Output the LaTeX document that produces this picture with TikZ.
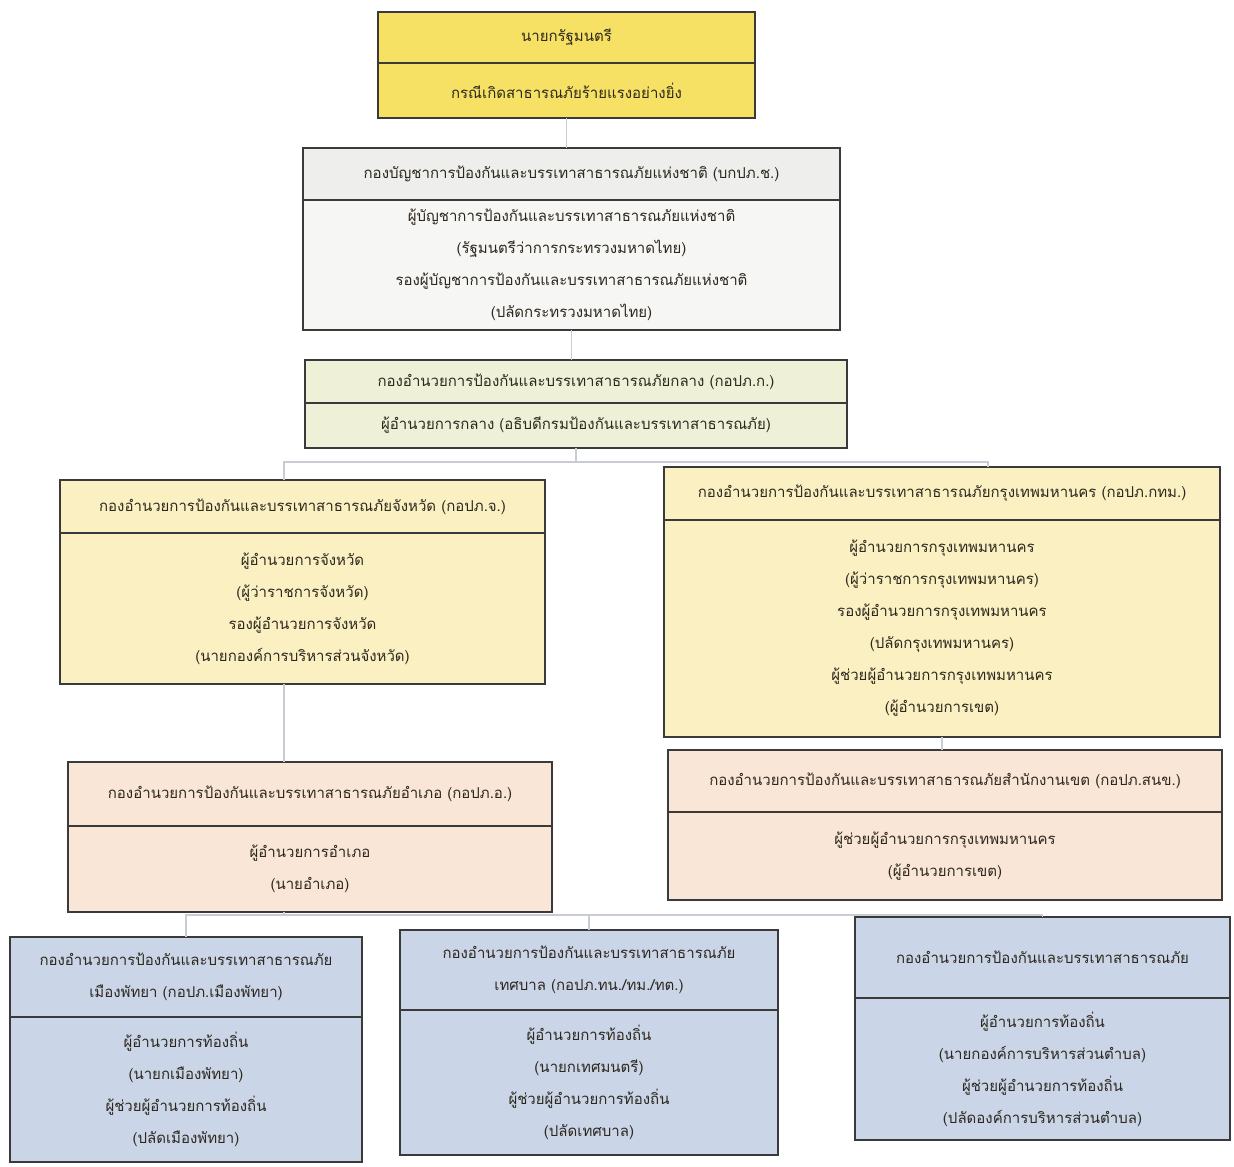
\documentclass[tikz,border=0pt]{standalone}
\usepackage{fontspec}
\newfontfamily\thaifont[Script=Thai]{Loma}
\usetikzlibrary{positioning}

\definecolor{pmyel}{RGB}{246,225,100}
\definecolor{natgr}{RGB}{238,238,236}
\definecolor{natwh}{RGB}{246,246,244}
\definecolor{cengr}{RGB}{238,241,216}
\definecolor{provy}{RGB}{251,240,194}
\definecolor{distp}{RGB}{249,230,214}
\definecolor{locbl}{RGB}{203,213,232}
\definecolor{boxln}{RGB}{58,58,58}
\definecolor{connln}{RGB}{200,205,212}
\definecolor{txt}{RGB}{45,40,30}

\tikzset{
  hd/.style={draw=boxln, line width=2.5pt, rectangle, anchor=north, minimum width=#1,
    outer sep=0pt, align=center, inner sep=2pt, text=txt, font=\thaifont\fontsize{15}{32}\selectfont},
  conn/.style={draw=connln, line width=1.6pt}
}

\begin{document}
\begin{tikzpicture}[x=1pt, y=-1pt]
    \useasboundingbox (0,0) rectangle (1234,1167);

    \node[hd=377, minimum height=51, fill=pmyel] (pm) at (566.5,12) {นายกรัฐมนตรี};
    \node[hd=377, minimum height=55, fill=pmyel, below=0pt of pm] (pmb) {กรณีเกิดสาธารณภัยร้ายแรงอย่างยิ่ง};

    \node[hd=537, minimum height=52, fill=natgr] (bk) at (571.5,148) {กองบัญชาการป้องกันและบรรเทาสาธารณภัยแห่งชาติ (บกปภ.ช.)};
    \node[hd=537, minimum height=130, fill=natwh, below=0pt of bk] (bkb) {ผู้บัญชาการป้องกันและบรรเทาสาธารณภัยแห่งชาติ\\
      (รัฐมนตรีว่าการกระทรวงมหาดไทย)\\
      รองผู้บัญชาการป้องกันและบรรเทาสาธารณภัยแห่งชาติ\\
      (ปลัดกระทรวงมหาดไทย)};

    \node[hd=542, minimum height=43, fill=cengr] (kl) at (576,360) {กองอำนวยการป้องกันและบรรเทาสาธารณภัยกลาง (กอปภ.ก.)};
    \node[hd=542, minimum height=45, fill=cengr, below=0pt of kl] (klb) {ผู้อำนวยการกลาง (อธิบดีกรมป้องกันและบรรเทาสาธารณภัย)};

    \node[hd=485, minimum height=53, fill=provy] (jw) at (302.5,480) {กองอำนวยการป้องกันและบรรเทาสาธารณภัยจังหวัด (กอปภ.จ.)};
    \node[hd=485, minimum height=151, fill=provy, below=0pt of jw] (jwb) {ผู้อำนวยการจังหวัด\\
      (ผู้ว่าราชการจังหวัด)\\
      รองผู้อำนวยการจังหวัด\\
      (นายกองค์การบริหารส่วนจังหวัด)};

    \node[hd=556, minimum height=53, fill=provy] (bkk) at (942,467) {กองอำนวยการป้องกันและบรรเทาสาธารณภัยกรุงเทพมหานคร (กอปภ.กทม.)};
    \node[hd=556, minimum height=217, fill=provy, below=0pt of bkk] (bkkb) {ผู้อำนวยการกรุงเทพมหานคร\\
      (ผู้ว่าราชการกรุงเทพมหานคร)\\
      รองผู้อำนวยการกรุงเทพมหานคร\\
      (ปลัดกรุงเทพมหานคร)\\
      ผู้ช่วยผู้อำนวยการกรุงเทพมหานคร\\
      (ผู้อำนวยการเขต)};

    \node[hd=484, minimum height=64, fill=distp] (am) at (310,762) {กองอำนวยการป้องกันและบรรเทาสาธารณภัยอำเภอ (กอปภ.อ.)};
    \node[hd=484, minimum height=86, fill=distp, below=0pt of am] (amb) {ผู้อำนวยการอำเภอ\\
      (นายอำเภอ)};

    \node[hd=554, minimum height=62, fill=distp] (snk) at (945,750) {กองอำนวยการป้องกันและบรรเทาสาธารณภัยสำนักงานเขต (กอปภ.สนข.)};
    \node[hd=554, minimum height=88, fill=distp, below=0pt of snk] (snkb) {ผู้ช่วยผู้อำนวยการกรุงเทพมหานคร\\
      (ผู้อำนวยการเขต)};

    \node[hd=352, minimum height=80, fill=locbl] (mp) at (186,937) {กองอำนวยการป้องกันและบรรเทาสาธารณภัย\\
      เมืองพัทยา (กอปภ.เมืองพัทยา)};
    \node[hd=352, minimum height=145, fill=locbl, below=0pt of mp] (mpb) {ผู้อำนวยการท้องถิ่น\\
      (นายกเมืองพัทยา)\\
      ผู้ช่วยผู้อำนวยการท้องถิ่น\\
      (ปลัดเมืองพัทยา)};

    \node[hd=378, minimum height=80, fill=locbl] (tb) at (589,930) {กองอำนวยการป้องกันและบรรเทาสาธารณภัย\\
      เทศบาล (กอปภ.ทน./ทม./ทต.)};
    \node[hd=378, minimum height=145, fill=locbl, below=0pt of tb] (tbb) {ผู้อำนวยการท้องถิ่น\\
      (นายกเทศมนตรี)\\
      ผู้ช่วยผู้อำนวยการท้องถิ่น\\
      (ปลัดเทศบาล)};

    \node[hd=375, minimum height=81, fill=locbl] (ob) at (1042.5,917) {กองอำนวยการป้องกันและบรรเทาสาธารณภัย};
    \node[hd=375, minimum height=142, fill=locbl, below=0pt of ob] (obb) {ผู้อำนวยการท้องถิ่น\\
      (นายกองค์การบริหารส่วนตำบล)\\
      ผู้ช่วยผู้อำนวยการท้องถิ่น\\
      (ปลัดองค์การบริหารส่วนตำบล)};

    \coordinate (bl) at (284,462);
    \coordinate (br) at (988,462);
    \coordinate (bb) at (284,915);
    \draw[conn] (pmb.south) -- (pmb.south |- bk.north);
    \draw[conn] (bkb.south) -- (bkb.south |- kl.north);
    \draw[conn] (klb.south) -- (klb.south |- bl);
    \draw[conn] (bl |- jw.north) -- (bl) -- (br) -- (br |- bkk.north);
    \draw[conn] (jwb.south -| bl) -- (bl |- am.north);
    \draw[conn] (bkkb.south) -- (bkkb.south |- snk.north);
    \draw[conn] (amb.south -| bb) -- (bb) -| (mp.north);
    \draw[conn] (bb) -| (ob.north);
    \draw[conn] (bb -| tb.north) -- (tb.north);
\end{tikzpicture}
\end{document}
